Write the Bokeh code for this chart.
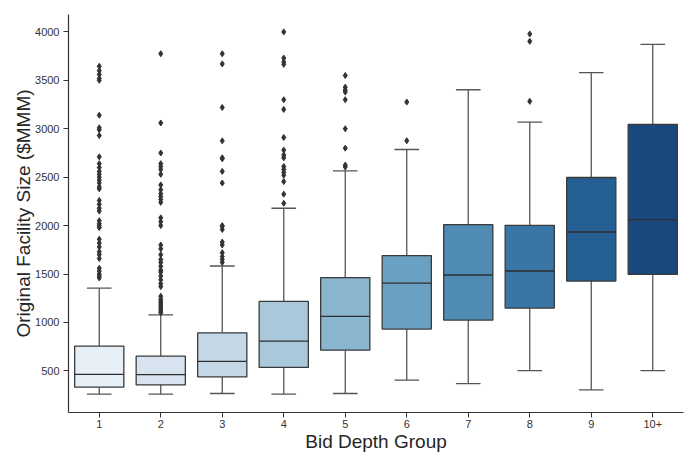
import colorsys
import numpy as np
from bokeh.plotting import figure
from bokeh.models import Range1d, FixedTicker, ColumnDataSource
from bokeh.embed import file_html
from bokeh.resources import INLINE

groups = ["1", "2", "3", "4", "5", "6", "7", "8", "9", "10+"]
q1 = [332, 355, 438, 535, 714, 931, 1024, 1148, 1427, 1496]
median = [463, 462, 597, 807, 1062, 1407, 1490, 1531, 1934, 2062]
q3 = [755, 652, 893, 1217, 1462, 1690, 2010, 2003, 2497, 3045]
whisker_low = [259, 259, 266, 259, 266, 404, 369, 503, 303, 503]
whisker_high = [1354, 1079, 1583, 2179, 2566, 2786, 3403, 3069, 3579, 3872]
outliers = [
    [3645, 3600, 3560, 3520, 3500, 3140, 3010, 2990, 2930, 2710, 2640, 2600, 2560,
     2530, 2500, 2470, 2440, 2400, 2380, 2260, 2220, 2180, 2150, 2050, 2020, 2000,
     1980, 1860, 1820, 1780, 1730, 1700, 1660, 1560, 1530, 1500, 1480, 1460],
    [3775, 3060, 2750, 2640, 2610, 2580, 2530, 2420, 2370, 2330, 2300, 2270, 2240,
     2080, 2040, 2000, 1800, 1760, 1700, 1650, 1620, 1580, 1540, 1520, 1480, 1440,
     1400, 1370, 1270, 1240, 1220, 1200, 1180, 1160, 1140, 1120, 1100],
    [3775, 3670, 3220, 2875, 2700, 2690, 2560, 2440, 2000, 1990, 1960, 1830, 1800,
     1720, 1680, 1650, 1620],
    [4000, 3730, 3690, 3665, 3300, 3200, 2910, 2780, 2730, 2700, 2610, 2580, 2550,
     2520, 2455, 2325, 2230],
    [3550, 3430, 3400, 3380, 3300, 3000, 2800, 2625, 2605],
    [3276, 2876],
    [],
    [3979, 3903, 3283],
    [],
    [],
]
y_ticks = [500, 1000, 1500, 2000, 2500, 3000, 3500, 4000]

# seaborn-like "Blues" palette (10 colours), desaturated to 0.75
anchors = ["#f7fbff", "#deebf7", "#c6dbef", "#9ecae1", "#6baed6",
           "#4292c6", "#2171b5", "#08519c", "#08306b"]


def hex2rgb(h):
    return [int(h[i:i + 2], 16) / 255 for i in (1, 3, 5)]


def cmap(t):
    pos = t * (len(anchors) - 1)
    i = min(int(pos), len(anchors) - 2)
    f = pos - i
    a, b = hex2rgb(anchors[i]), hex2rgb(anchors[i + 1])
    return [a[k] + (b[k] - a[k]) * f for k in range(3)]


colors = []
for t in np.linspace(0, 1, len(groups) + 2)[1:-1]:
    r, g, b = cmap(t)
    h, l, s = colorsys.rgb_to_hls(r, g, b)
    r, g, b = colorsys.hls_to_rgb(h, l, s * 0.75)
    colors.append("#%02x%02x%02x" % (int(r * 255), int(g * 255), int(b * 255)))

x = np.arange(len(groups))
src = ColumnDataSource(dict(x=x, q1=q1, med=median, q3=q3, lo=whisker_low,
                            hi=whisker_high, color=colors,
                            cl=x - 0.2, cr=x + 0.2, bl=x - 0.4, br=x + 0.4))

ox, oy = [], []
for i, vals in enumerate(outliers):
    ox += [i] * len(vals)
    oy += vals

p = figure(width=691, height=457, output_backend="svg", toolbar_location=None,
           x_range=Range1d(-0.5, 9.5), y_range=Range1d(70, 4180),
           min_border_left=68, min_border_right=8, min_border_top=14,
           min_border_bottom=45)
p.background_fill_color = "white"
p.border_fill_color = "white"
p.outline_line_color = None
p.grid.visible = False

line_col = "#555555"
p.segment(x0="x", y0="lo", x1="x", y1="q1", source=src, line_color=line_col, line_width=1.3)
p.segment(x0="x", y0="q3", x1="x", y1="hi", source=src, line_color=line_col, line_width=1.3)
p.segment(x0="cl", y0="lo", x1="cr", y1="lo", source=src, line_color=line_col, line_width=1.3)
p.segment(x0="cl", y0="hi", x1="cr", y1="hi", source=src, line_color=line_col, line_width=1.3)
p.vbar(x="x", width=0.8, bottom="q1", top="q3", source=src, fill_color="color",
       line_color="#3a3a3a", line_width=1.3)
p.segment(x0="bl", y0="med", x1="br", y1="med", source=src, line_color="#2e2e2e", line_width=1.3)
p.scatter(ox, oy, marker="diamond", size=6, fill_color="#333333", line_color="#333333")

p.xaxis.ticker = FixedTicker(ticks=list(x))
p.xaxis.major_label_overrides = {int(i): g for i, g in zip(x, groups)}
p.yaxis.ticker = FixedTicker(ticks=y_ticks)
p.xaxis.axis_label = "Bid Depth Group"
p.yaxis.axis_label = "Original Facility Size ($MMM)"

for ax in (p.xaxis, p.yaxis):
    ax.axis_line_color = "#333333"
    ax.axis_line_width = 1.2
    ax.major_tick_line_color = "#333333"
    ax.major_tick_out = 5
    ax.major_tick_in = 0
    ax.minor_tick_line_color = None
    ax.major_label_text_font = "Liberation Sans"
    ax.major_label_text_font_size = "11px"
    ax.major_label_text_color = "#333333"
    ax.axis_label_text_font = "Liberation Sans"
    ax.axis_label_text_font_size = "19px"
    ax.axis_label_text_font_style = "normal"
    ax.axis_label_text_color = "#262626"
p.xaxis.axis_label_standoff = 0
p.yaxis.axis_label_standoff = -2
p.xaxis.major_label_standoff = 2
p.yaxis.major_label_standoff = 4

open("out.html", "w").write(file_html(p, INLINE))
